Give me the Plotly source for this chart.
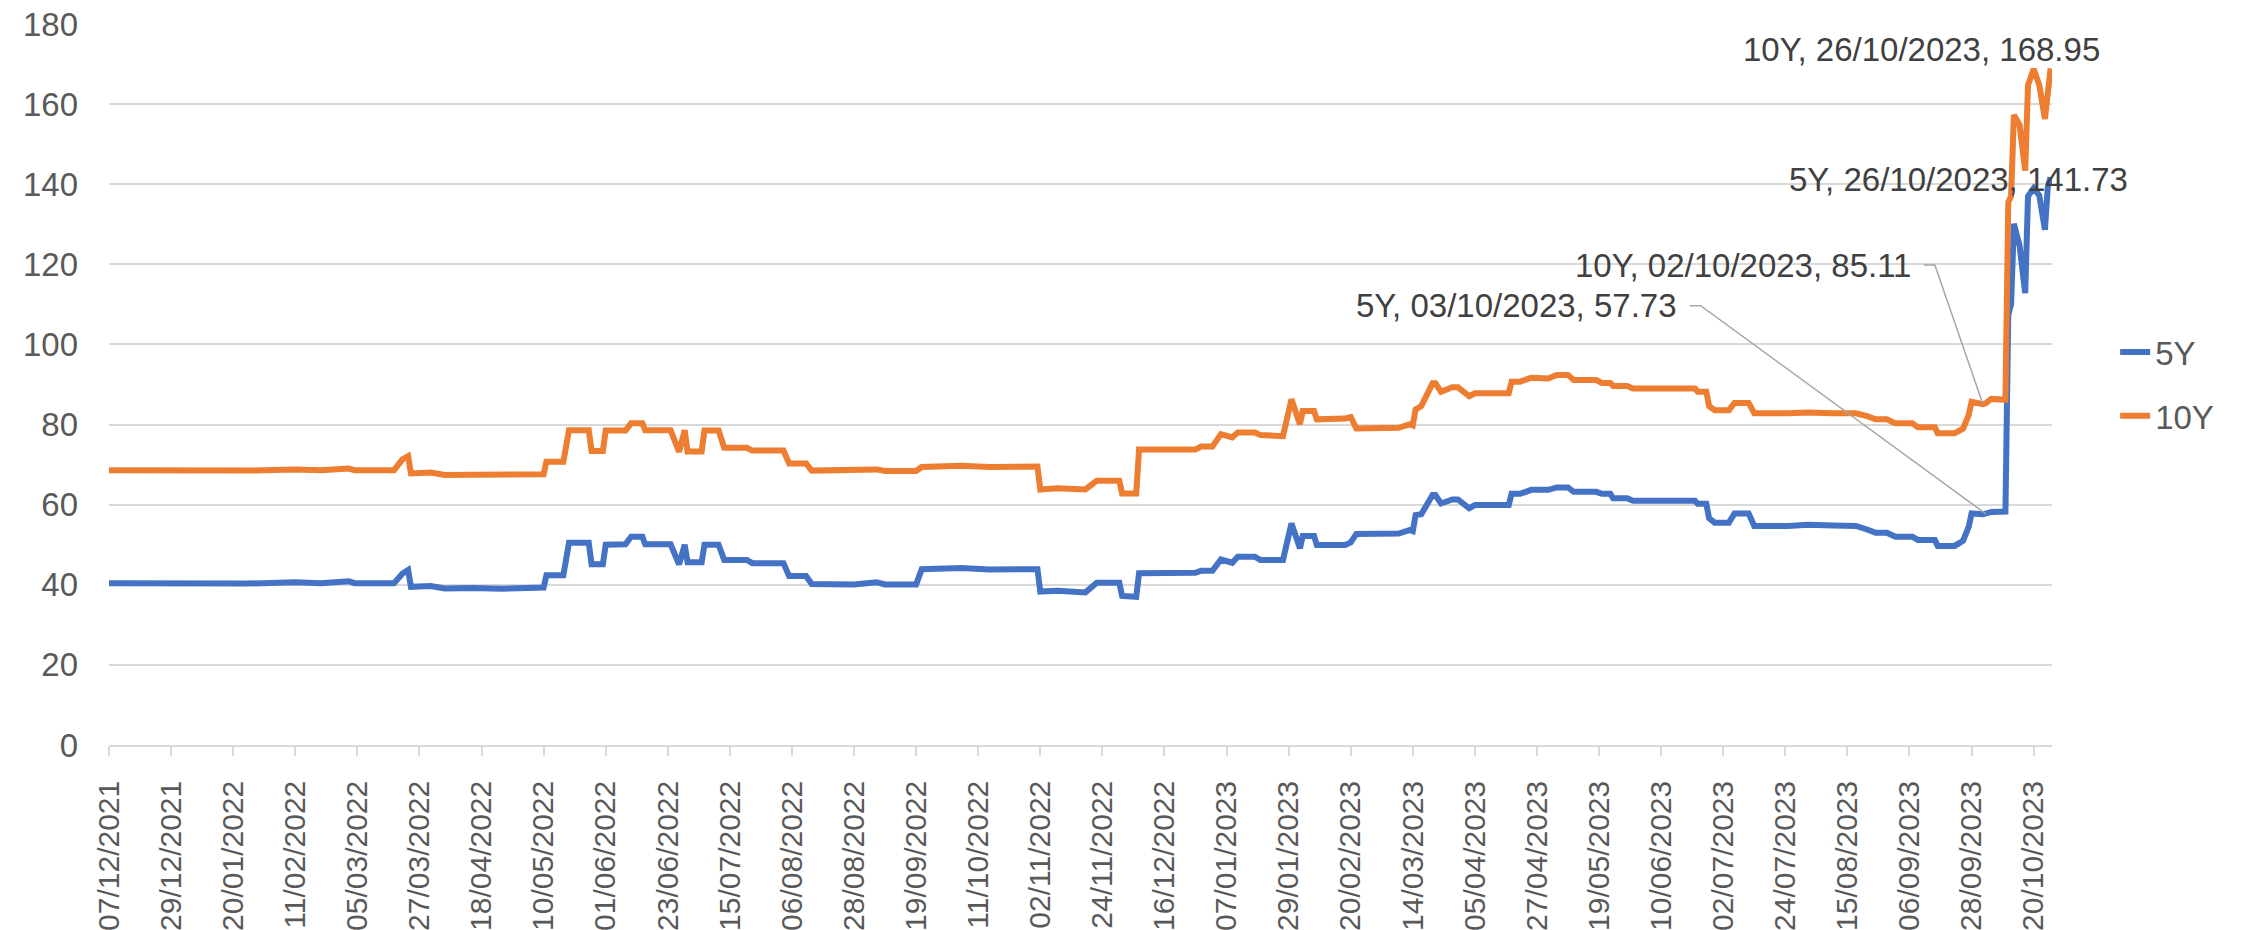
import plotly.graph_objects as go
from datetime import datetime

# ---------------- data ----------------
dates = [
    "2021-12-07", "2021-12-20", "2022-01-10", "2022-01-25", "2022-02-11", "2022-02-20",
    "2022-03-02", "2022-03-04", "2022-03-18", "2022-03-21", "2022-03-23", "2022-03-24",
    "2022-03-31", "2022-04-05", "2022-04-15", "2022-04-25", "2022-05-10", "2022-05-11",
    "2022-05-17", "2022-05-19", "2022-05-26", "2022-05-27", "2022-05-31", "2022-06-01",
    "2022-06-08", "2022-06-10", "2022-06-14", "2022-06-15", "2022-06-24", "2022-06-27",
    "2022-06-29", "2022-06-30", "2022-07-05", "2022-07-06", "2022-07-11", "2022-07-13",
    "2022-07-21", "2022-07-23", "2022-08-03", "2022-08-05", "2022-08-11", "2022-08-13",
    "2022-08-28", "2022-09-05", "2022-09-08", "2022-09-19", "2022-09-21", "2022-10-05",
    "2022-10-15", "2022-10-25", "2022-11-01", "2022-11-02", "2022-11-08", "2022-11-18",
    "2022-11-22", "2022-11-30", "2022-12-01", "2022-12-06", "2022-12-07", "2022-12-27",
    "2022-12-29", "2023-01-02", "2023-01-05", "2023-01-09", "2023-01-11", "2023-01-17",
    "2023-01-19", "2023-01-27", "2023-01-30", "2023-02-02", "2023-02-03", "2023-02-07",
    "2023-02-08", "2023-02-18", "2023-02-20", "2023-02-22", "2023-03-09", "2023-03-13",
    "2023-03-14", "2023-03-15", "2023-03-17", "2023-03-21", "2023-03-22", "2023-03-24",
    "2023-03-28", "2023-03-30", "2023-04-03", "2023-04-05", "2023-04-17", "2023-04-18",
    "2023-04-21", "2023-04-25", "2023-05-01", "2023-05-04", "2023-05-08", "2023-05-10",
    "2023-05-18", "2023-05-20", "2023-05-23", "2023-05-24", "2023-05-29", "2023-05-31",
    "2023-06-22", "2023-06-23", "2023-06-26", "2023-06-27", "2023-06-29", "2023-07-04",
    "2023-07-06", "2023-07-11", "2023-07-13", "2023-07-25", "2023-08-01", "2023-08-10",
    "2023-08-18", "2023-08-22", "2023-08-25", "2023-08-29", "2023-09-01", "2023-09-07",
    "2023-09-09", "2023-09-15", "2023-09-16", "2023-09-22", "2023-09-25", "2023-09-27",
    "2023-09-28", "2023-10-02", "2023-10-03", "2023-10-05", "2023-10-10", "2023-10-11",
    "2023-10-12", "2023-10-13", "2023-10-15", "2023-10-17", "2023-10-18", "2023-10-20",
    "2023-10-22", "2023-10-24", "2023-10-25", "2023-10-26",
]

y5 = [
    40.4, 40.3, 40.4, 40.3, 40.6, 40.4,
    40.9, 40.4, 40.4, 42.8, 43.7, 39.5,
    39.7, 39.1, 39.2, 39.0, 39.3, 42.4,
    42.4, 50.5, 50.5, 45.1, 45.1, 50.0,
    50.1, 52.0, 52.0, 50.1, 50.1, 45.1,
    50.0, 45.6, 45.6, 50.0, 50.0, 46.2,
    46.2, 45.4, 45.4, 42.2, 42.2, 40.2,
    40.1, 40.6, 40.1, 40.1, 43.9, 44.2,
    43.8, 44.0, 43.9, 38.3, 38.5, 38.1,
    40.5, 40.5, 37.2, 37.0, 42.9, 43.0,
    43.5, 43.5, 46.3, 45.5, 47.0, 47.0,
    46.2, 46.2, 55.3, 49.1, 52.2, 52.2,
    49.9, 49.9, 50.6, 52.7, 52.8, 53.7,
    53.4, 57.4, 57.6, 62.4, 62.4, 60.3,
    61.3, 61.3, 59.1, 59.9, 59.9, 62.7,
    62.7, 63.7, 63.7, 64.3, 64.3, 63.2,
    63.2, 62.7, 62.7, 61.6, 61.6, 61.0,
    61.0, 60.2, 60.2, 56.6, 55.5, 55.5,
    57.8, 57.8, 54.7, 54.7, 55.0, 54.8,
    54.7, 53.8, 53.0, 53.0, 52.0, 52.0,
    51.2, 51.2, 49.7, 49.7, 51.0, 54.5,
    57.8, 57.6, 57.73, 58.2, 58.3, 107.4,
    110.0, 130.1, 124.7, 112.8, 137.0, 139.0,
    137.2, 128.6, 139.3, 141.73,
]

y10 = [
    68.6, 68.5, 68.7, 68.5, 68.8, 68.6,
    69.0, 68.6, 68.6, 71.3, 72.1, 67.8,
    68.0, 67.4, 67.5, 67.4, 67.6, 70.7,
    70.7, 78.6, 78.6, 73.4, 73.4, 78.5,
    78.5, 80.3, 80.3, 78.6, 78.6, 73.2,
    78.6, 73.3, 73.3, 78.5, 78.5, 74.2,
    74.2, 73.5, 73.5, 70.3, 70.3, 68.5,
    68.6, 68.8, 68.4, 68.4, 69.4, 69.7,
    69.4, 69.6, 69.5, 63.8, 64.1, 63.8,
    66.0, 66.0, 62.8, 62.8, 73.8, 73.8,
    74.5, 74.5, 77.6, 76.8, 78.0, 78.0,
    77.4, 77.1, 86.3, 80.1, 83.4, 83.4,
    81.3, 81.5, 81.9, 79.0, 79.2, 80.1,
    79.8, 83.8, 84.6, 90.3, 90.3, 88.2,
    89.3, 89.3, 87.1, 87.8, 87.8, 90.7,
    90.7, 91.7, 91.5, 92.4, 92.4, 91.1,
    91.1, 90.4, 90.4, 89.6, 89.6, 89.0,
    89.0, 88.2, 88.2, 84.6, 83.6, 83.6,
    85.4, 85.4, 82.8, 82.8, 83.0, 82.8,
    82.8, 82.1, 81.3, 81.3, 80.3, 80.3,
    79.3, 79.3, 77.8, 77.8, 79.0, 82.4,
    85.7, 85.11, 85.3, 86.4, 86.2, 135.5,
    137.0, 157.3, 154.8, 143.4, 164.7, 168.8,
    164.7, 156.3, 164.5, 168.95,
]

tick_labels = [
    "07/12/2021", "29/12/2021", "20/01/2022", "11/02/2022", "05/03/2022", "27/03/2022",
    "18/04/2022", "10/05/2022", "01/06/2022", "23/06/2022", "15/07/2022", "06/08/2022",
    "28/08/2022", "19/09/2022", "11/10/2022", "02/11/2022", "24/11/2022", "16/12/2022",
    "07/01/2023", "29/01/2023", "20/02/2023", "14/03/2023", "05/04/2023", "27/04/2023",
    "19/05/2023", "10/06/2023", "02/07/2023", "24/07/2023", "15/08/2023", "06/09/2023",
    "28/09/2023", "20/10/2023",
]

series_names = ["5Y", "10Y"]
series_colors = ["#4472C4", "#ED7D31"]

# labelled points: (series index, date)
labelled = [
    (1, "2023-10-26"),
    (0, "2023-10-26"),
    (1, "2023-10-02"),
    (0, "2023-10-03"),
]

# ---------------- figure ----------------
tick_vals = [datetime.strptime(t, "%d/%m/%Y").strftime("%Y-%m-%d") for t in tick_labels]
values = [y5, y10]

fig = go.Figure()
for i, name in enumerate(series_names):
    fig.add_trace(go.Scatter(
        x=dates, y=values[i], name=name, mode="lines",
        line=dict(color=series_colors[i], width=6),
        legendgroup=name,
    ))

TXT = "#404040"
GRID = "#D9D9D9"
FONT = "Liberation Sans, Arial, sans-serif"

# label placement (pixel offsets of the text's right edge / centre from the point)
label_shift = {
    (1, "2023-10-26"): (51, 19),
    (0, "2023-10-26"): (79, -2),
    (1, "2023-10-02"): (-70, 139),
    (0, "2023-10-03"): (-307, 208),
}
leaders = {
    (1, "2023-10-02"): "M -59 139 L -48 139 L 0 0",
    (0, "2023-10-03"): "M -296 208 L -285 208 L 0 0",
}

annotations = []
shapes = []
for key in labelled:
    si, d = key
    v = values[si][dates.index(d)]
    dd = datetime.strptime(d, "%Y-%m-%d").strftime("%d/%m/%Y")
    xs, ys = label_shift[key]
    annotations.append(dict(
        x=d, y=v, xref="x", yref="y", showarrow=False,
        text=f"{series_names[si]}, {dd}, {v:.2f}",
        xanchor="right", yanchor="middle", xshift=xs, yshift=ys,
        font=dict(family=FONT, size=33, color=TXT),
    ))
    if key in leaders:
        shapes.append(dict(
            type="path", xref="x", yref="y",
            xsizemode="pixel", ysizemode="pixel",
            xanchor=d, yanchor=v, path=leaders[key],
            line=dict(color="#A6A6A6", width=1.5),
        ))

# the page adds an 8px body margin, so the figure is offset by 8px
fig.update_layout(
    width=2236, height=922,
    margin=dict(l=101, r=192, t=16, b=185),
    paper_bgcolor="white", plot_bgcolor="white",
    font=dict(family=FONT, size=33, color="#595959"),
    showlegend=True,
    legend=dict(
        x=1.0325, y=0.584, xanchor="left", yanchor="top",
        font=dict(family=FONT, size=33, color="#595959"),
        tracegroupgap=18, bgcolor="rgba(0,0,0,0)",
    ),
    annotations=annotations,
    shapes=shapes,
    xaxis=dict(
        type="date",
        range=["2021-12-07", "2023-10-26 12:00"],
        tickmode="array", tickvals=tick_vals, ticktext=tick_labels,
        tickangle=-90,
        tickfont=dict(family=FONT, size=30, color="#595959"),
        ticks="outside", ticklen=9, tickwidth=1.5, tickcolor=GRID,
        showline=True, linecolor=GRID, linewidth=1.5,
        showgrid=False, zeroline=False,
        ticklabelstandoff=13, automargin=False,
        ticklabeloverflow="allow",
    ),
    yaxis=dict(
        range=[0, 180], dtick=20, tick0=0,
        showgrid=True, gridcolor=GRID, gridwidth=1.5,
        zeroline=False, showline=False, ticks="",
        tickfont=dict(family=FONT, size=33, color="#595959"),
        ticklabelstandoff=30, automargin=False,
        ticklabeloverflow="allow",
    ),
)

fig.write_html("out.html")
